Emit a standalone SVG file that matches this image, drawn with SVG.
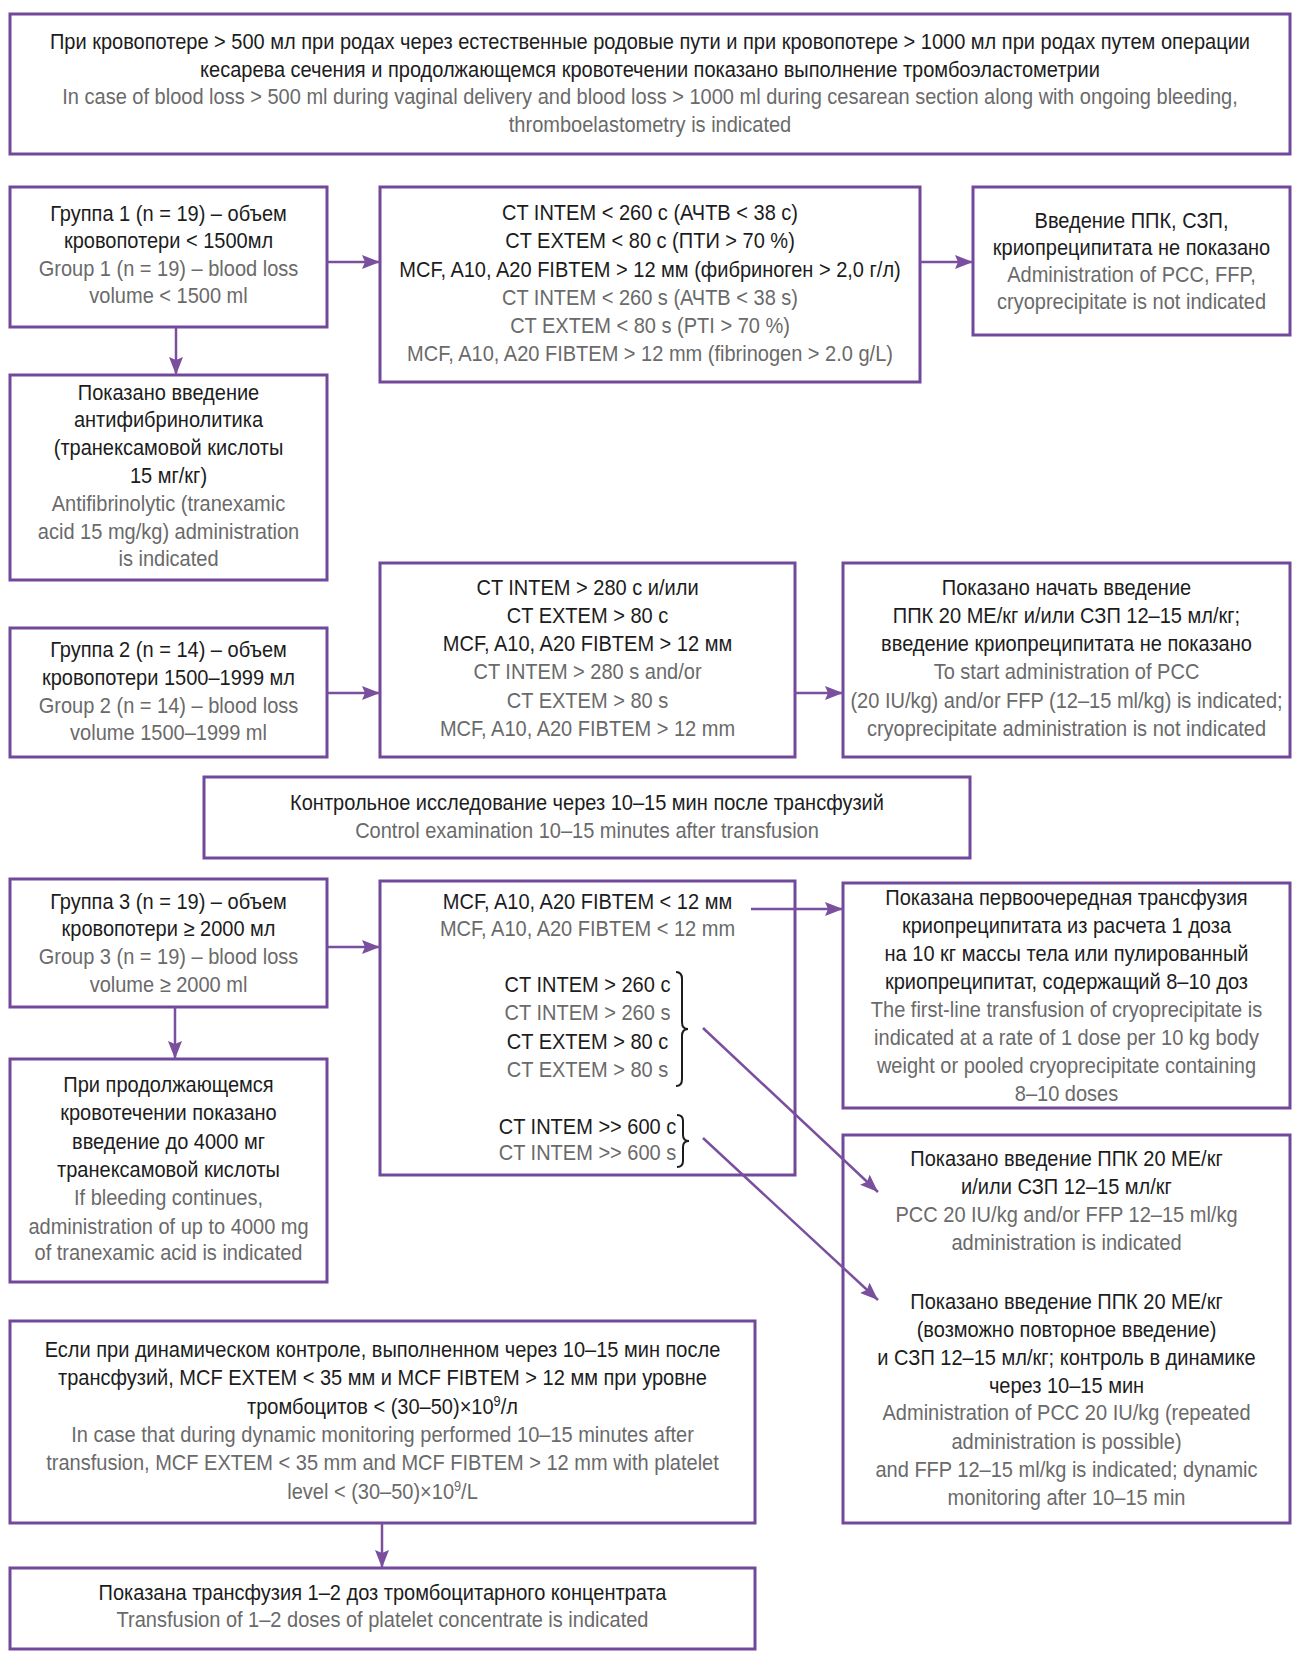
<svg xmlns="http://www.w3.org/2000/svg" width="1300" height="1659" viewBox="0 0 1300 1659">
<style>
.box{fill:#ffffff;stroke:#72489a;stroke-width:3}
.ru,.en{font-family:"Liberation Sans",Arial,sans-serif;font-size:22px;text-anchor:middle}
.ru{fill:#1c1c1c}
.en{fill:#6a6a6a}
.conn line{stroke:#7a4f9e;stroke-width:2.5;fill:none}
.brace{stroke:#1c1c1c;stroke-width:2;fill:none}
</style>
<defs>
<marker id="arr" markerUnits="userSpaceOnUse" markerWidth="18" markerHeight="14" refX="18" refY="7" orient="auto">
<path d="M0,0 L18,7 L0,14 L3,7 z" fill="#7a4f9e"/>
</marker>
</defs>
<rect width="1300" height="1659" fill="#ffffff"/>

<g id="top">
<rect class="box" x="10" y="14" width="1280" height="140"/>
<g transform="translate(650,0) scale(0.91,1)">
<text class="ru" x="0" y="49">При кровопотере &gt; 500 мл при родах через естественные родовые пути и при кровопотере &gt; 1000 мл при родах путем операции</text>
<text class="ru" x="0" y="77">кесарева сечения и продолжающемся кровотечении показано выполнение тромбоэластометрии</text>
<text class="en" x="0" y="104">In case of blood loss &gt; 500 ml during vaginal delivery and blood loss &gt; 1000 ml during cesarean section along with ongoing bleeding,</text>
<text class="en" x="0" y="132">thromboelastometry is indicated</text>
</g>
</g>

<g id="group1">
<rect class="box" x="10" y="187" width="317" height="140"/>
<g transform="translate(168.5,0) scale(0.91,1)">
<text class="ru" x="0" y="221">Группа 1 (n = 19) – объем</text>
<text class="ru" x="0" y="248">кровопотери &lt; 1500мл</text>
<text class="en" x="0" y="276">Group 1 (n = 19) – blood loss</text>
<text class="en" x="0" y="303">volume &lt; 1500 ml</text>
</g>
</g>

<g id="ct1">
<rect class="box" x="380" y="187" width="540" height="195"/>
<g transform="translate(650,0) scale(0.91,1)">
<text class="ru" x="0" y="220">CT INTEM &lt; 260 с (АЧТВ &lt; 38 с)</text>
<text class="ru" x="0" y="248">CT EXTEM &lt; 80 с (ПТИ &gt; 70 %)</text>
<text class="ru" x="0" y="277">MCF, A10, A20 FIBTEM &gt; 12 мм (фибриноген &gt; 2,0 г/л)</text>
<text class="en" x="0" y="305">CT INTEM &lt; 260 s (АЧТВ &lt; 38 s)</text>
<text class="en" x="0" y="333">CT EXTEM &lt; 80 s (PTI &gt; 70 %)</text>
<text class="en" x="0" y="361">MCF, A10, A20 FIBTEM &gt; 12 mm (fibrinogen &gt; 2.0 g/L)</text>
</g>
</g>

<g id="right1">
<rect class="box" x="973" y="187" width="317" height="148"/>
<g transform="translate(1131.5,0) scale(0.91,1)">
<text class="ru" x="0" y="228">Введение ППК, СЗП,</text>
<text class="ru" x="0" y="255">криопреципитата не показано</text>
<text class="en" x="0" y="282">Administration of PCC, FFP,</text>
<text class="en" x="0" y="309">cryoprecipitate is not indicated</text>
</g>
</g>

<g id="antifib">
<rect class="box" x="10" y="375" width="317" height="205"/>
<g transform="translate(168.5,0) scale(0.91,1)">
<text class="ru" x="0" y="400">Показано введение</text>
<text class="ru" x="0" y="427">антифибринолитика</text>
<text class="ru" x="0" y="455">(транексамовой кислоты</text>
<text class="ru" x="0" y="483">15 мг/кг)</text>
<text class="en" x="0" y="511">Antifibrinolytic (tranexamic</text>
<text class="en" x="0" y="539">acid 15 mg/kg) administration</text>
<text class="en" x="0" y="566">is indicated</text>
</g>
</g>

<g id="group2">
<rect class="box" x="10" y="628" width="317" height="129"/>
<g transform="translate(168.5,0) scale(0.91,1)">
<text class="ru" x="0" y="657">Группа 2 (n = 14) – объем</text>
<text class="ru" x="0" y="685">кровопотери 1500–1999 мл</text>
<text class="en" x="0" y="713">Group 2 (n = 14) – blood loss</text>
<text class="en" x="0" y="740">volume 1500–1999 ml</text>
</g>
</g>

<g id="ct2">
<rect class="box" x="380" y="563" width="415" height="194"/>
<g transform="translate(587.5,0) scale(0.91,1)">
<text class="ru" x="0" y="595">CT INTEM &gt; 280 с и/или</text>
<text class="ru" x="0" y="623">CT EXTEM &gt; 80 с</text>
<text class="ru" x="0" y="651">MCF, A10, A20 FIBTEM &gt; 12 мм</text>
<text class="en" x="0" y="679">CT INTEM &gt; 280 s and/or</text>
<text class="en" x="0" y="708">CT EXTEM &gt; 80 s</text>
<text class="en" x="0" y="736">MCF, A10, A20 FIBTEM &gt; 12 mm</text>
</g>
</g>

<g id="right2">
<rect class="box" x="843" y="563" width="447" height="194"/>
<g transform="translate(1066.5,0) scale(0.91,1)">
<text class="ru" x="0" y="595">Показано начать введение</text>
<text class="ru" x="0" y="623">ППК 20 МЕ/кг и/или СЗП 12–15 мл/кг;</text>
<text class="ru" x="0" y="651">введение криопреципитата не показано</text>
<text class="en" x="0" y="679">To start administration of PCC</text>
<text class="en" x="0" y="708">(20 IU/kg) and/or FFP (12–15 ml/kg) is indicated;</text>
<text class="en" x="0" y="736">cryoprecipitate administration is not indicated</text>
</g>
</g>

<g id="control">
<rect class="box" x="204" y="777" width="766" height="81"/>
<g transform="translate(587,0) scale(0.91,1)">
<text class="ru" x="0" y="810">Контрольное исследование через 10–15 мин после трансфузий</text>
<text class="en" x="0" y="838">Control examination 10–15 minutes after transfusion</text>
</g>
</g>

<g id="group3">
<rect class="box" x="10" y="879" width="317" height="128"/>
<g transform="translate(168.5,0) scale(0.91,1)">
<text class="ru" x="0" y="909">Группа 3 (n = 19) – объем</text>
<text class="ru" x="0" y="936">кровопотери ≥ 2000 мл</text>
<text class="en" x="0" y="964">Group 3 (n = 19) – blood loss</text>
<text class="en" x="0" y="992">volume ≥ 2000 ml</text>
</g>
</g>

<g id="tranex">
<rect class="box" x="10" y="1059" width="317" height="223"/>
<g transform="translate(168.5,0) scale(0.91,1)">
<text class="ru" x="0" y="1092">При продолжающемся</text>
<text class="ru" x="0" y="1120">кровотечении показано</text>
<text class="ru" x="0" y="1149">введение до 4000 мг</text>
<text class="ru" x="0" y="1177">транексамовой кислоты</text>
<text class="en" x="0" y="1205">If bleeding continues,</text>
<text class="en" x="0" y="1234">administration of up to 4000 mg</text>
<text class="en" x="0" y="1260">of tranexamic acid is indicated</text>
</g>
</g>

<g id="ct3">
<rect class="box" x="380" y="881" width="415" height="294"/>
<g transform="translate(587.5,0) scale(0.91,1)">
<text class="ru" x="0" y="909">MCF, A10, A20 FIBTEM &lt; 12 мм</text>
<text class="en" x="0" y="936">MCF, A10, A20 FIBTEM &lt; 12 mm</text>
<text class="ru" x="0" y="992">CT INTEM &gt; 260 с</text>
<text class="en" x="0" y="1020">CT INTEM &gt; 260 s</text>
<text class="ru" x="0" y="1049">CT EXTEM &gt; 80 с</text>
<text class="en" x="0" y="1077">CT EXTEM &gt; 80 s</text>
<text class="ru" x="0" y="1134">CT INTEM &gt;&gt; 600 с</text>
<text class="en" x="0" y="1160">CT INTEM &gt;&gt; 600 s</text>
</g>
<path class="brace" d="M676,972 Q682,972 682,979 L682,1022 Q682,1029 688,1029 Q682,1029 682,1036 L682,1079 Q682,1086 676,1086"/>
<path class="brace" d="M677,1115 Q683,1115 683,1121 L683,1135 Q683,1141 689,1141 Q683,1141 683,1147 L683,1161 Q683,1167 677,1167"/>
</g>

<g id="box3a">
<rect class="box" x="843" y="883" width="447" height="225"/>
<g transform="translate(1066.5,0) scale(0.91,1)">
<text class="ru" x="0" y="905">Показана первоочередная трансфузия</text>
<text class="ru" x="0" y="933">криопреципитата из расчета 1 доза</text>
<text class="ru" x="0" y="961">на 10 кг массы тела или пулированный</text>
<text class="ru" x="0" y="989">криопреципитат, содержащий 8–10 доз</text>
<text class="en" x="0" y="1017">The first-line transfusion of cryoprecipitate is</text>
<text class="en" x="0" y="1045">indicated at a rate of 1 dose per 10 kg body</text>
<text class="en" x="0" y="1073">weight or pooled cryoprecipitate containing</text>
<text class="en" x="0" y="1101">8–10 doses</text>
</g>
</g>

<g id="box3b">
<rect class="box" x="843" y="1135" width="447" height="388"/>
<g transform="translate(1066.5,0) scale(0.91,1)">
<text class="ru" x="0" y="1166">Показано введение ППК 20 МЕ/кг</text>
<text class="ru" x="0" y="1194">и/или СЗП 12–15 мл/кг</text>
<text class="en" x="0" y="1222">PCC 20 IU/kg and/or FFP 12–15 ml/kg</text>
<text class="en" x="0" y="1250">administration is indicated</text>
<text class="ru" x="0" y="1309">Показано введение ППК 20 МЕ/кг</text>
<text class="ru" x="0" y="1337">(возможно повторное введение)</text>
<text class="ru" x="0" y="1365">и СЗП 12–15 мл/кг; контроль в динамике</text>
<text class="ru" x="0" y="1393">через 10–15 мин</text>
<text class="en" x="0" y="1420">Administration of PCC 20 IU/kg (repeated</text>
<text class="en" x="0" y="1449">administration is possible)</text>
<text class="en" x="0" y="1477">and FFP 12–15 ml/kg is indicated; dynamic</text>
<text class="en" x="0" y="1505">monitoring after 10–15 min</text>
</g>
</g>

<g id="platelet-check">
<rect class="box" x="10" y="1321" width="745" height="202"/>
<g transform="translate(382.5,0) scale(0.91,1)">
<text class="ru" x="0" y="1357">Если при динамическом контроле, выполненном через 10–15 мин после</text>
<text class="ru" x="0" y="1385">трансфузий, MCF EXTEM &lt; 35 мм и MCF FIBTEM &gt; 12 мм при уровне</text>
<text class="ru" x="0" y="1414">тромбоцитов &lt; (30–50)×10<tspan font-size="14" dy="-8">9</tspan><tspan dy="8">/л</tspan></text>
<text class="en" x="0" y="1442">In case that during dynamic monitoring performed 10–15 minutes after</text>
<text class="en" x="0" y="1470">transfusion, MCF EXTEM &lt; 35 mm and MCF FIBTEM &gt; 12 mm with platelet</text>
<text class="en" x="0" y="1499">level &lt; (30–50)×10<tspan font-size="14" dy="-8">9</tspan><tspan dy="8">/L</tspan></text>
</g>
</g>

<g id="platelet-transfusion">
<rect class="box" x="10" y="1568" width="745" height="81"/>
<g transform="translate(382.5,0) scale(0.91,1)">
<text class="ru" x="0" y="1600">Показана трансфузия 1–2 доз тромбоцитарного концентрата</text>
<text class="en" x="0" y="1627">Transfusion of 1–2 doses of platelet concentrate is indicated</text>
</g>
</g>

<g id="connectors" class="conn">
<line x1="327" y1="262" x2="380" y2="262" marker-end="url(#arr)"/>
<line x1="920" y1="262" x2="973" y2="262" marker-end="url(#arr)"/>
<line x1="176" y1="327" x2="176" y2="375" marker-end="url(#arr)"/>
<line x1="327" y1="693" x2="380" y2="693" marker-end="url(#arr)"/>
<line x1="795" y1="693" x2="843" y2="693" marker-end="url(#arr)"/>
<line x1="327" y1="947" x2="380" y2="947" marker-end="url(#arr)"/>
<line x1="175" y1="1007" x2="175" y2="1059" marker-end="url(#arr)"/>
<line x1="751" y1="909" x2="843" y2="909" marker-end="url(#arr)"/>
<line x1="703" y1="1028" x2="878" y2="1192" marker-end="url(#arr)"/>
<line x1="703" y1="1138" x2="878" y2="1300" marker-end="url(#arr)"/>
<line x1="382" y1="1523" x2="382" y2="1568" marker-end="url(#arr)"/>
</g>
</svg>
